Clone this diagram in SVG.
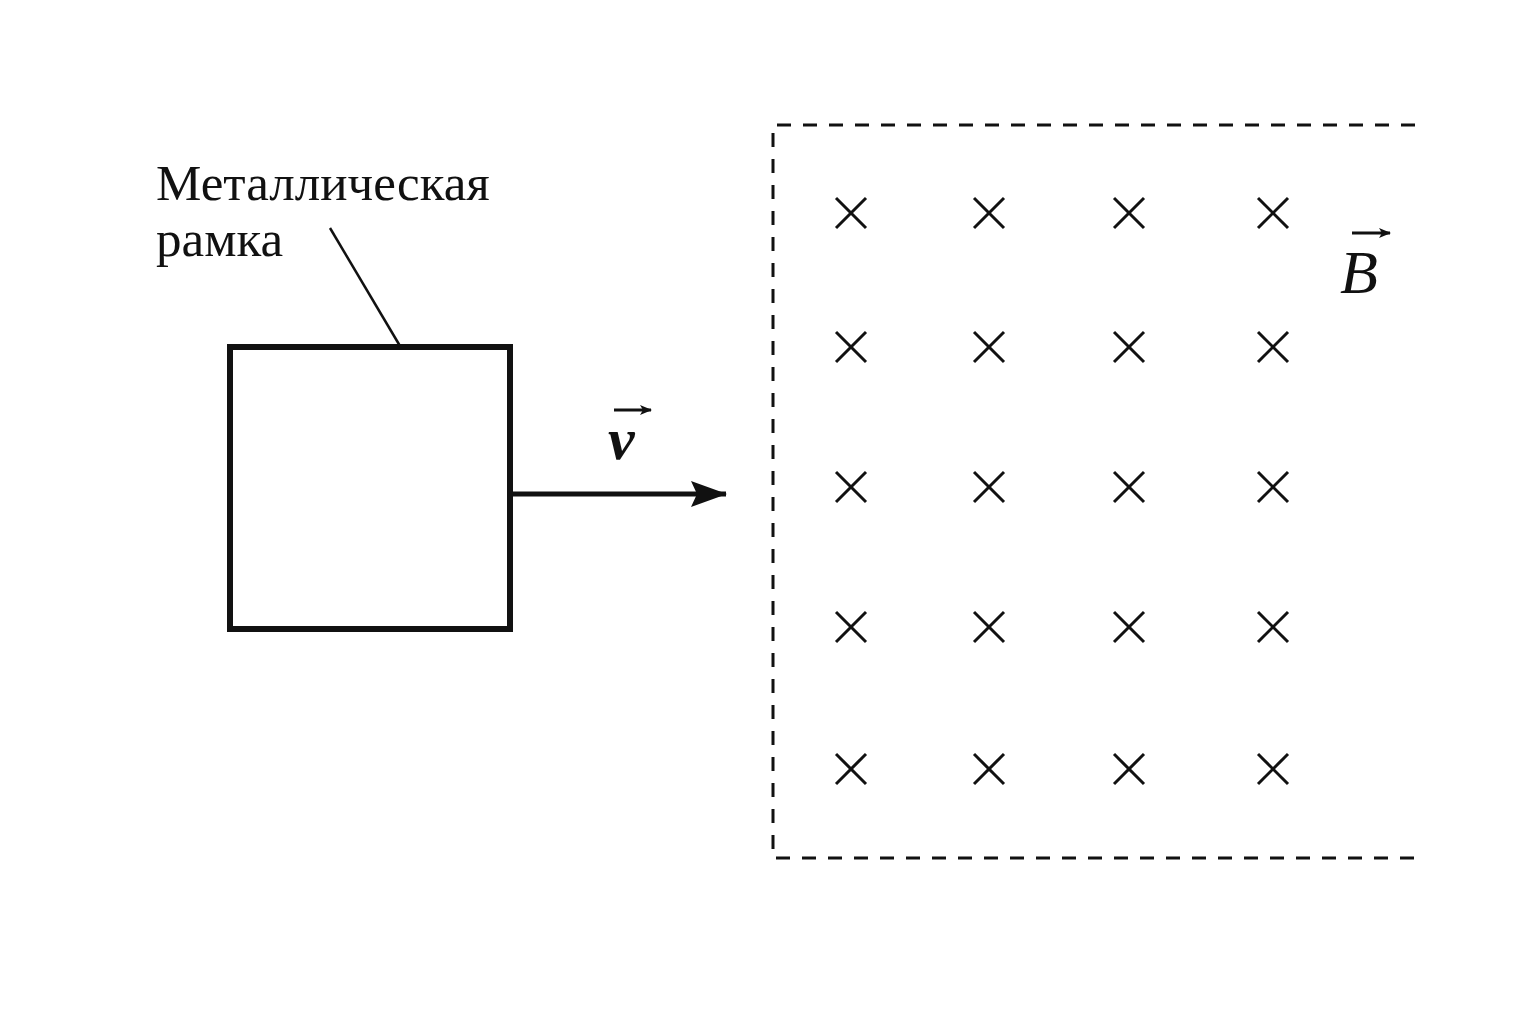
<svg xmlns="http://www.w3.org/2000/svg" width="1536" height="1024" viewBox="0 0 1536 1024">
<style>
.t{font-family:"Liberation Serif",serif;font-size:51px;fill:#111}
.d{stroke:#111;stroke-width:3;stroke-dasharray:14 12;fill:none}
</style>
<defs>
<marker id="ah" markerWidth="12" markerHeight="10" refX="11" refY="5" orient="auto" markerUnits="userSpaceOnUse"><path d="M0,0 L12,5 L0,10 L3,5 Z" fill="#111"/></marker>
<marker id="big" markerWidth="36" markerHeight="26" refX="35" refY="13" orient="auto" markerUnits="userSpaceOnUse"><path d="M0,0 L36,13 L0,26 L6,13 Z" fill="#111"/></marker>
<g id="cr" stroke="#111" stroke-width="3"><line x1="-15" y1="-15" x2="15" y2="15"/><line x1="-15" y1="15" x2="15" y2="-15"/></g>
</defs>
<rect width="1536" height="1024" fill="#fff"/>
<g id="frame"><rect x="230" y="347" width="280" height="282" fill="none" stroke="#111" stroke-width="6"/></g>
<g id="label"><text class="t" x="156" y="200">Металлическая</text><text class="t" x="156" y="256">рамка</text></g>
<g id="field">
<path class="d" d="M1415,125 H773 V858 H1415"/>
<g>
<use href="#cr" x="851" y="213"/><use href="#cr" x="989" y="213"/><use href="#cr" x="1129" y="213"/><use href="#cr" x="1273" y="213"/>
<use href="#cr" x="851" y="347"/><use href="#cr" x="989" y="347"/><use href="#cr" x="1129" y="347"/><use href="#cr" x="1273" y="347"/>
<use href="#cr" x="851" y="487"/><use href="#cr" x="989" y="487"/><use href="#cr" x="1129" y="487"/><use href="#cr" x="1273" y="487"/>
<use href="#cr" x="851" y="627"/><use href="#cr" x="989" y="627"/><use href="#cr" x="1129" y="627"/><use href="#cr" x="1273" y="627"/>
<use href="#cr" x="851" y="769"/><use href="#cr" x="989" y="769"/><use href="#cr" x="1129" y="769"/><use href="#cr" x="1273" y="769"/>
</g>
<text x="1340" y="293" style="font-family:'Liberation Serif',serif;font-style:italic;font-size:62px;fill:#111">B</text>
<line x1="1352" y1="233" x2="1390" y2="233" stroke="#111" stroke-width="3" marker-end="url(#ah)"/>
</g>
<g id="velocity">
<text x="608" y="459" style="font-family:'Liberation Serif',serif;font-style:italic;font-weight:bold;font-size:60px;fill:#111">v</text>
<line x1="614" y1="410" x2="651" y2="410" stroke="#111" stroke-width="3" marker-end="url(#ah)"/>
</g>
<g id="connectors">
<line x1="330" y1="228" x2="400" y2="346" stroke="#111" stroke-width="2.5"/>
<line x1="512" y1="494" x2="726" y2="494" stroke="#111" stroke-width="5" marker-end="url(#big)"/>
</g>
</svg>
